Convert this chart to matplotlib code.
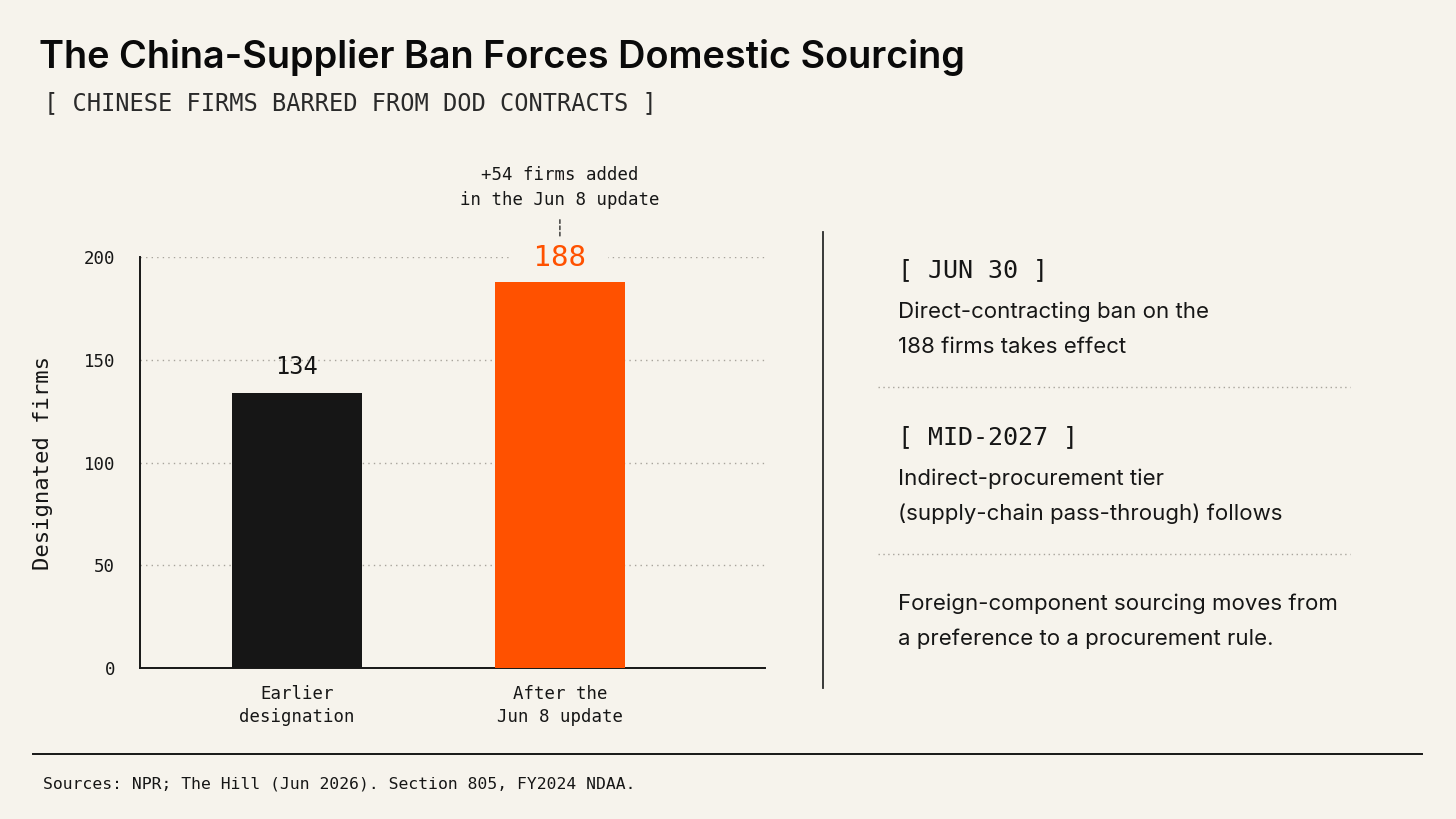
import matplotlib
matplotlib.use('Agg')
import matplotlib.pyplot as plt
from matplotlib.lines import Line2D

W, H = 1456, 819
BG = '#F6F3EC'
INK = '#161616'
ORANGE = '#FF5100'
GRID = '#A8A49C'
MONO = 'DejaVu Sans Mono'
SANS = 'Inter'

categories = ['Earlier\ndesignation', 'After the\nJun 8 update']
firms = [134, 188]
bar_colors = [INK, ORANGE]
yticks = [0, 50, 100, 150, 200]

notes = [
    ('[ JUN 30 ]', ['Direct-contracting ban on the', '188 firms takes effect']),
    ('[ MID-2027 ]', ['Indirect-procurement tier', '(supply-chain pass-through) follows']),
    (None, ['Foreign-component sourcing moves from', 'a preference to a procurement rule.']),
]


def fx(px):
    return px / W


def fy(py):
    return 1 - py / H


fig = plt.figure(figsize=(W / 100, H / 100), dpi=100, facecolor=BG)

# title block
fig.text(fx(39), fy(57), 'The China-Supplier Ban Forces Domestic Sourcing',
         family=SANS, weight='semibold', size=27.3, color='#0A0A0A', va='center')
fig.text(fx(44), fy(103), '[ CHINESE FIRMS BARRED FROM DOD CONTRACTS ]',
         family=MONO, size=17, color='#2A2A2A', va='center')

# bar chart
ax = fig.add_axes([fx(140), fy(668), fx(765) - fx(140), fy(257) - fy(668)])
ax.set_facecolor(BG)
x = list(range(len(categories)))
ax.bar(x, firms, width=0.495, color=bar_colors, zorder=3)
ax.set_xlim(-0.597, 1.78)
ax.set_ylim(0, 200)
ax.set_yticks(yticks)
ax.set_xticks(x)
ax.set_xticklabels(categories, family=MONO, size=12.5, color=INK, linespacing=1.35)
ax.tick_params(axis='x', length=0, pad=12)
ax.tick_params(axis='y', length=0, pad=18, labelsize=12.5, labelcolor=INK)
for lab in ax.get_yticklabels():
    lab.set_family(MONO)
ax.yaxis.grid(True, linestyle=(0, (1, 3)), color=GRID, linewidth=1, zorder=0)
ax.set_axisbelow(True)
for s in ['top', 'right']:
    ax.spines[s].set_visible(False)
ax.spines['left'].set_color(INK)
ax.spines['bottom'].set_color(INK)
ax.spines['left'].set_linewidth(1.4)
ax.spines['bottom'].set_linewidth(1.4)
ax.set_ylabel('Designated firms', family=MONO, size=16, color=INK, labelpad=22)

ax.annotate(str(firms[0]), (x[0], firms[0]), xytext=(0, 10), textcoords='offset points',
            ha='center', va='bottom', family=MONO, size=17, color=INK)
# padded with spaces so the background box breaks the 200 gridline like the original
ax.annotate(' %d ' % firms[1], (x[1], firms[1]), xytext=(0, 7), textcoords='offset points',
            ha='center', va='bottom', family=MONO, size=21, color=ORANGE, zorder=5,
            bbox=dict(boxstyle='square,pad=0.15', fc=BG, ec='none'))
ax.annotate('', xy=(x[1], 208), xytext=(x[1], 219.5), annotation_clip=False,
            arrowprops=dict(arrowstyle='-', color=INK, linestyle=(0, (3, 2)), linewidth=0.9))
ax.text(x[1], 223.5, '+54 firms added\nin the Jun 8 update', ha='center', va='bottom',
        family=MONO, size=12.5, color=INK, linespacing=1.45, clip_on=False)

# divider between chart and notes
fig.add_artist(Line2D([fx(823), fx(823)], [fy(232), fy(688)], color='#2A2A2A', linewidth=1.3))

# notes panel
y = 270
for i, (head, lines) in enumerate(notes):
    if head:
        fig.text(fx(898), fy(y), head, family=MONO, size=18, color=INK, va='center')
        y += 42
    for line in lines:
        fig.text(fx(898), fy(y), line, family=SANS, size=16, color=INK, va='center')
        y += 35
    if i < len(notes) - 1:
        y += 5
        fig.add_artist(Line2D([fx(878), fx(1350)], [fy(y), fy(y)], color=GRID,
                              linewidth=1, linestyle=(0, (1, 2.5))))
        y += 50

# footer
fig.add_artist(Line2D([fx(33), fx(1422)], [fy(754), fy(754)], color=INK, linewidth=1.4))
fig.text(fx(43), fy(784), 'Sources: NPR; The Hill (Jun 2026). Section 805, FY2024 NDAA.',
         family=MONO, size=11.8, color=INK, va='center')

fig.savefig('out.png', dpi=100, facecolor=BG)
